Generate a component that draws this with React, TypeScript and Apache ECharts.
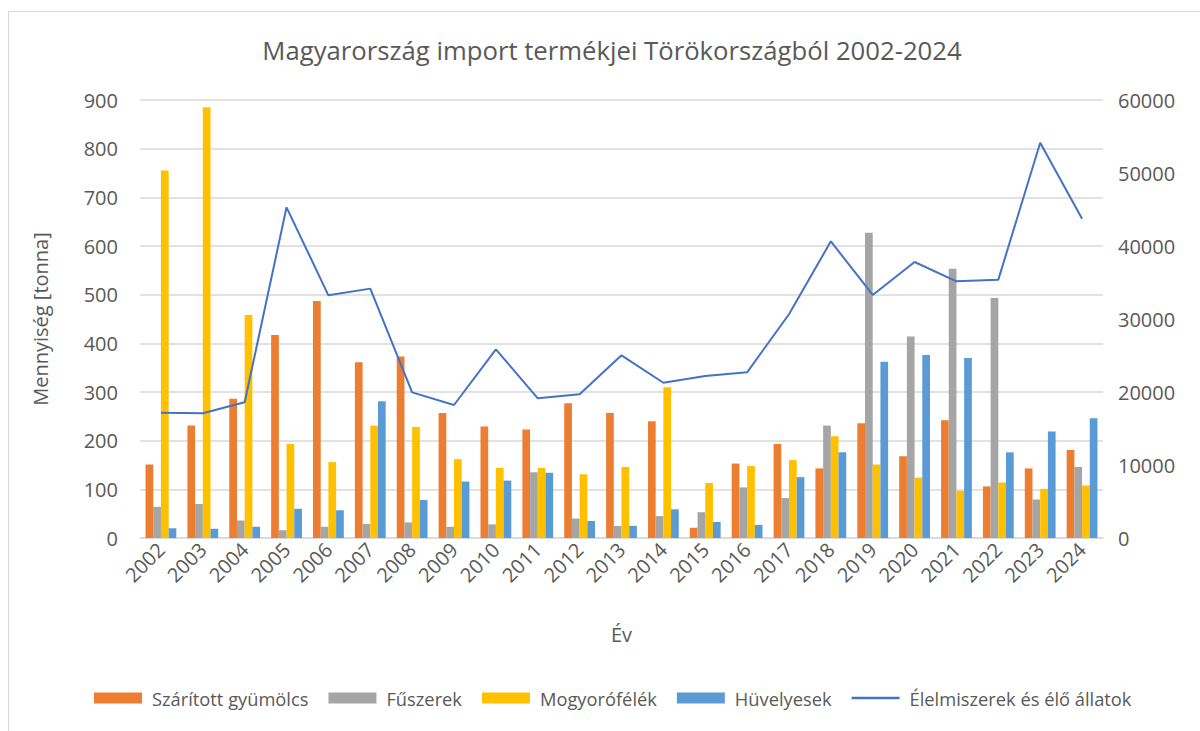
import React, { useEffect, useRef } from "react";
import * as echarts from "echarts";

const years = ["2002","2003","2004","2005","2006","2007","2008","2009","2010","2011","2012","2013","2014","2015","2016","2017","2018","2019","2020","2021","2022","2023","2024"];
const driedFruit = [151,231,286,417,487,361,373,257,229,223,277,257,240,21,153,193,143,236,168,242,106,143,181];
const spices = [64,70,36,16,23,29,32,23,28,135,40,25,45,53,104,82,231,627,414,553,493,79,146];
const nuts = [755,885,458,193,156,231,228,162,144,144,131,146,310,113,148,160,209,151,124,97,114,101,108];
const legumes = [20,19,23,60,57,281,78,116,118,134,35,25,59,33,27,125,176,362,376,370,176,219,246];
const foodAnimals = [17160,17080,18590,45300,33240,34160,19950,18220,25850,19140,19680,25020,21270,22190,22700,30650,40640,33290,37810,35160,35390,54150,43740];

const leftTicksMax = 900;
const rightTicksMax = 60000;

const FONT = "'Open Sans', 'Noto Sans', sans-serif";
const TXT = "#595959";

export default function App() {
  const ref = useRef<HTMLDivElement>(null);
  useEffect(() => {
    if (!ref.current) return;
    const chart = echarts.init(ref.current, undefined, { renderer: "svg" });
    const barW = 7.7;
    const bar = (name: string, data: number[], color: string) => ({
      name,
      type: "bar",
      data,
      barWidth: barW,
      barGap: "0%",
      itemStyle: { color },
      yAxisIndex: 0,
    });
    chart.setOption({
      animation: false,
      textStyle: { fontFamily: FONT, color: TXT },
      title: {
        text: "Magyarország import termékjei Törökországból 2002-2024",
        left: 607,
        top: 32,
        textAlign: "center",
        textStyle: { fontFamily: FONT, fontSize: 25.7, fontWeight: "normal", color: TXT },
      },
      graphic: [
        { type: "line", shape: { x1: 8.5, y1: 11.5, x2: 1200, y2: 11.5 }, style: { stroke: "#d9d9d9", lineWidth: 1 } },
        { type: "line", shape: { x1: 8.5, y1: 11.5, x2: 8.5, y2: 731 }, style: { stroke: "#d9d9d9", lineWidth: 1 } },
      ],
      legend: {
        bottom: 19,
        left: 89,
        itemWidth: 48,
        itemHeight: 11,
        itemGap: 20,
        textStyle: { fontFamily: FONT, fontSize: 18.3, color: TXT, padding: [0, 0, 0, 5] },
        data: [
          { name: "Szárított gyümölcs", icon: "rect" },
          { name: "Fűszerek", icon: "rect" },
          { name: "Mogyorófélék", icon: "rect" },
          { name: "Hüvelyesek", icon: "rect" },
          { name: "Élelmiszerek és élő állatok", icon: "path://M0 0H48V2.5H0Z" },
        ],
      },
      grid: { left: 140, right: 97, top: 100, bottom: 193, containLabel: false },
      xAxis: {
        type: "category",
        data: years,
        name: "Év",
        nameLocation: "middle",
        nameGap: 86,
        nameTextStyle: { fontFamily: FONT, fontSize: 20, color: TXT },
        axisLine: { lineStyle: { color: "#d9d9d9", width: 1.5 } },
        axisTick: { show: false },
        axisLabel: { rotate: 45, fontFamily: FONT, fontSize: 20, color: TXT, margin: 8, interval: 0 },
      },
      yAxis: [
        {
          type: "value",
          min: 0,
          max: leftTicksMax,
          interval: 100,
          name: "Mennyiség [tonna]",
          nameLocation: "middle",
          nameGap: 90,
          nameRotate: 90,
          nameTextStyle: { fontFamily: FONT, fontSize: 20, color: TXT },
          axisLine: { show: false },
          axisTick: { show: false },
          splitLine: { lineStyle: { color: "#d9d9d9", width: 1.5 } },
          axisLabel: { fontFamily: FONT, fontSize: 20, color: TXT, margin: 22 },
        },
        {
          type: "value",
          min: 0,
          max: rightTicksMax,
          interval: 10000,
          axisLine: { show: false },
          axisTick: { show: false },
          splitLine: { show: false },
          axisLabel: { fontFamily: FONT, fontSize: 20, color: TXT, margin: 15, formatter: (v: number) => String(v) },
        },
      ],
      series: [
        bar("Szárított gyümölcs", driedFruit, "#ED7D31"),
        bar("Fűszerek", spices, "#A5A5A5"),
        bar("Mogyorófélék", nuts, "#FFC000"),
        bar("Hüvelyesek", legumes, "#5B9BD5"),
        {
          name: "Élelmiszerek és élő állatok",
          type: "line",
          yAxisIndex: 1,
          data: foodAnimals,
          symbol: "none",
          lineStyle: { color: "#4472C4", width: 2 },
          itemStyle: { color: "#4472C4" },
        },
      ],
    });
    return () => chart.dispose();
  }, []);
  return (
    <div
      ref={ref}
      style={{ position: "fixed", left: 0, top: 0, width: 1200, height: 731, background: "#fff" }}
    />
  );
}
